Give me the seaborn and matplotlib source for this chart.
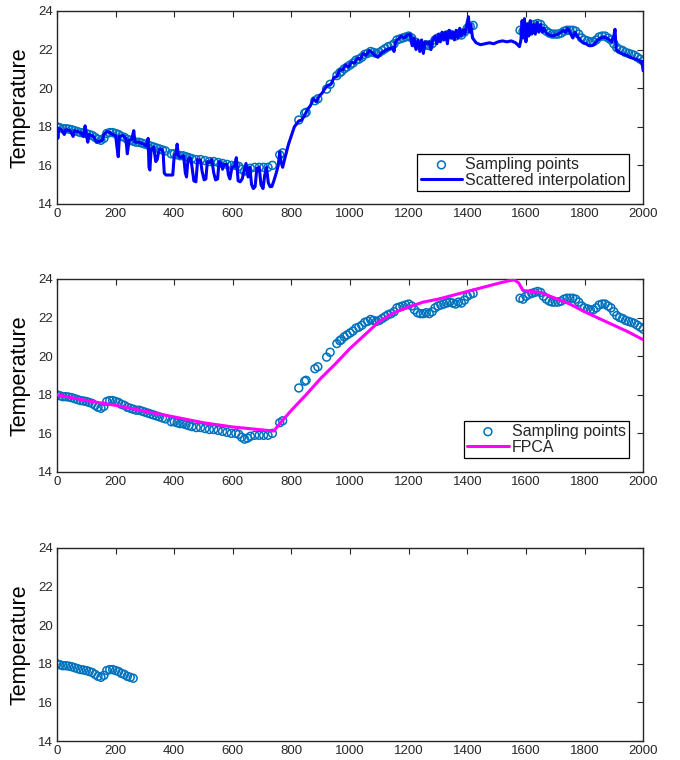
import matplotlib
matplotlib.use("Agg")
import matplotlib.pyplot as plt
import seaborn as sns
import numpy as np
import pandas as pd

# ---------------- data ----------------
samp_x = [0, 10, 20, 30, 40, 50, 60, 70, 80, 90, 100, 110, 120, 130, 140, 150, 160, 170,
          180, 190, 200, 210, 220, 230, 240, 250, 260,
          270, 280, 290, 300, 310, 320, 330, 340, 350, 360, 370,
          390, 400, 410, 420, 430, 440, 450, 460, 475, 490, 505, 520, 535, 550, 565, 580,
          595, 610, 620, 630, 640, 650, 660, 675, 690, 705, 720, 735, 760, 770,
          825, 845, 850, 880, 890, 920, 932, 955, 965,
          970, 980, 990, 1000, 1010, 1020, 1030, 1040, 1050, 1060, 1070, 1080, 1090, 1100,
          1110, 1120, 1130, 1140, 1150, 1160, 1170, 1180, 1190, 1200, 1210, 1220, 1230,
          1240, 1250, 1260, 1270, 1280, 1290, 1300, 1310, 1320, 1330, 1340, 1350, 1360,
          1370, 1380, 1390, 1400, 1410, 1420,
          1580, 1590, 1600, 1610, 1620, 1630, 1640, 1650, 1660, 1670, 1680, 1690, 1700,
          1710, 1720, 1730, 1740, 1750, 1760, 1770, 1780, 1790, 1800, 1810, 1820, 1830,
          1840, 1850, 1860, 1870, 1880, 1890, 1900, 1910, 1920, 1930, 1940, 1950, 1960,
          1970, 1980, 1990, 2000]
samp_y = [18.0, 17.95, 17.9, 17.9, 17.88, 17.85, 17.8, 17.75, 17.7, 17.68, 17.65, 17.6, 17.55,
          17.45, 17.35, 17.3, 17.4, 17.65, 17.7, 17.7, 17.65, 17.6, 17.5, 17.45, 17.35, 17.3,
          17.25,
          17.2, 17.2, 17.15, 17.1, 17.05, 17.0, 16.95, 16.9, 16.85, 16.8, 16.75,
          16.6, 16.6, 16.55, 16.5, 16.5, 16.45, 16.4, 16.35, 16.3, 16.3, 16.25, 16.2, 16.2,
          16.15, 16.1, 16.05, 16.0, 16.0, 15.95, 15.8, 15.7, 15.75, 15.85, 15.9, 15.9, 15.9,
          15.9, 16.0, 16.55, 16.65,
          18.35, 18.7, 18.75, 19.35, 19.45, 19.95, 20.2, 20.65, 20.8,
          20.85, 21.0, 21.1, 21.2, 21.3, 21.45, 21.5, 21.6, 21.75, 21.8, 21.9, 21.85, 21.8,
          21.85, 21.95, 22.05, 22.15, 22.2, 22.3, 22.5, 22.55, 22.6, 22.65, 22.7, 22.6, 22.4,
          22.25, 22.2, 22.2, 22.25, 22.2, 22.3, 22.5, 22.6, 22.65, 22.7, 22.75, 22.8, 22.75,
          22.7, 22.8, 22.75, 22.9, 23.1, 23.2, 23.25,
          23.0, 22.95, 23.1, 23.2, 23.25, 23.3, 23.35, 23.3, 23.1, 22.95, 22.85, 22.8, 22.8,
          22.8, 22.85, 22.95, 23.0, 23.0, 23.0, 22.95, 22.8, 22.6, 22.5, 22.45, 22.4, 22.4,
          22.5, 22.65, 22.7, 22.7, 22.6, 22.5, 22.3, 22.1, 22.0, 21.95, 21.85, 21.8, 21.75,
          21.7, 21.6, 21.5, 21.4]

interp_pts = [
    (0, 17.95), (3, 17.4), (6, 17.9), (15, 17.85), (25, 17.6), (30, 17.85), (45, 17.8),
    (55, 17.5), (60, 17.8), (80, 17.7), (90, 17.5), (96, 18.05), (100, 17.6), (105, 17.2),
    (110, 17.6), (125, 17.5), (135, 17.2), (145, 17.25), (155, 17.3), (160, 17.6),
    (170, 17.75), (180, 17.7), (190, 17.6), (200, 17.55), (205, 16.9), (209, 16.45),
    (213, 17.5), (225, 17.55), (235, 17.4), (240, 16.6), (246, 17.3), (255, 17.35),
    (262, 17.8), (266, 17.2), (280, 17.2), (295, 17.1), (305, 17.0), (311, 17.4),
    (314, 15.9), (317, 15.76), (321, 16.8), (330, 16.95), (337, 16.2), (342, 16.3),
    (348, 16.8), (355, 16.85), (362, 16.7), (366, 15.6), (372, 15.5), (395, 15.5),
    (400, 16.5), (406, 16.6), (410, 17.1), (414, 16.5), (420, 16.4), (432, 16.5),
    (438, 15.6), (442, 15.4), (447, 16.3), (455, 16.4), (460, 16.0), (467, 15.2),
    (474, 15.15), (480, 16.3), (490, 16.25), (495, 15.7), (502, 15.25), (508, 15.3),
    (513, 16.2), (520, 16.15), (528, 16.3), (535, 15.6), (541, 15.25), (548, 15.3),
    (553, 16.2), (560, 16.1), (565, 15.8), (570, 16.05), (580, 16.05), (585, 15.5),
    (590, 15.3), (597, 15.9), (605, 15.95), (612, 16.4), (618, 15.2), (625, 15.15),
    (632, 15.3), (638, 15.7), (645, 16.1), (652, 15.4), (658, 15.9), (664, 15.0),
    (670, 14.8), (676, 14.9), (682, 15.85), (690, 15.9), (696, 15.0), (703, 14.8),
    (709, 15.5), (715, 15.9), (721, 15.1), (727, 14.9), (733, 14.9), (740, 15.2),
    (748, 15.6), (755, 16.0), (760, 16.7), (764, 16.2), (770, 15.9), (778, 16.4),
    (790, 17.1), (810, 18.0), (825, 18.3), (835, 18.35), (845, 18.6), (855, 18.9),
    (865, 19.1), (875, 19.45), (885, 19.3), (895, 19.6), (905, 19.75), (915, 20.0),
    (925, 20.15), (935, 20.2), (945, 20.55), (955, 20.6), (965, 20.95), (975, 20.95),
    (985, 21.2), (995, 21.1), (1005, 21.35), (1015, 21.3), (1025, 21.55), (1035, 21.5),
    (1045, 21.8), (1055, 21.7), (1065, 21.95), (1075, 21.85), (1085, 21.7), (1095, 21.6),
    (1105, 21.8), (1115, 21.9), (1125, 22.0), (1135, 22.05), (1145, 22.1), (1150, 21.9),
    (1155, 22.4), (1165, 22.55), (1175, 22.7), (1185, 22.6), (1195, 22.75), (1205, 22.8),
    (1212, 22.2), (1218, 22.6), (1225, 22.0), (1232, 22.5), (1238, 21.9), (1244, 22.5),
    (1250, 21.8), (1256, 22.4), (1262, 22.3), (1270, 22.4), (1276, 22.0), (1282, 22.5),
    (1290, 22.7), (1296, 22.3), (1302, 22.8), (1308, 22.4), (1314, 22.9), (1320, 22.5),
    (1326, 22.9), (1332, 22.3), (1338, 23.0), (1344, 22.6), (1350, 22.9), (1356, 22.5),
    (1362, 23.0), (1368, 22.6), (1374, 23.1), (1380, 22.7), (1386, 23.0), (1392, 22.8),
    (1398, 23.3), (1404, 23.7), (1408, 22.9), (1412, 23.3), (1418, 22.6), (1430, 22.35),
    (1445, 22.25), (1460, 22.3), (1475, 22.35), (1490, 22.3), (1505, 22.4), (1520, 22.45),
    (1535, 22.4), (1550, 22.45), (1565, 22.35), (1578, 22.15), (1583, 22.5), (1587, 23.5),
    (1591, 22.6), (1595, 23.6), (1600, 22.4), (1605, 23.3), (1610, 22.7), (1615, 23.5),
    (1620, 22.8), (1626, 23.3), (1632, 22.8), (1638, 23.4), (1644, 22.9), (1650, 23.3),
    (1656, 22.9), (1662, 23.1), (1670, 22.85), (1680, 22.75), (1690, 22.7), (1700, 22.75),
    (1710, 22.8), (1720, 22.9), (1728, 23.0), (1735, 22.9), (1742, 23.1), (1750, 22.9),
    (1760, 22.6), (1768, 22.9), (1775, 22.7), (1785, 22.5), (1795, 22.35), (1805, 22.3),
    (1815, 22.2), (1825, 22.2), (1835, 22.3), (1845, 22.5), (1855, 22.6), (1865, 22.65),
    (1875, 22.6), (1885, 22.5), (1893, 22.4), (1900, 22.7), (1904, 23.05), (1908, 22.0),
    (1915, 21.9), (1925, 21.8), (1935, 21.75), (1945, 21.7), (1955, 21.6), (1965, 21.55),
    (1975, 21.5), (1985, 21.45), (1992, 21.35), (1996, 21.4), (2000, 20.9)]
interp_x = [p[0] for p in interp_pts]
interp_y = [p[1] for p in interp_pts]

fpca_x = [0, 100, 200, 300, 400, 500, 600, 700, 740, 760, 800, 850, 900, 950, 1000, 1050,
          1100, 1150, 1200, 1250, 1300, 1350, 1400, 1450, 1500, 1540, 1560, 1575, 1590,
          1620, 1650, 1700, 1750, 1800, 1850, 1900, 1950, 2000]
fpca_y = [18.0, 17.7, 17.45, 17.15, 16.85, 16.55, 16.33, 16.18, 16.12, 16.5, 17.2, 18.0,
          18.85, 19.6, 20.4, 21.1, 21.8, 22.25, 22.55, 22.8, 22.95, 23.15, 23.35, 23.55,
          23.75, 23.9, 23.95, 23.8, 23.4, 23.35, 23.3, 23.0, 22.7, 22.3, 21.95, 21.6,
          21.25, 20.85]

partial_max_x = 260

xticks = [0, 200, 400, 600, 800, 1000, 1200, 1400, 1600, 1800, 2000]
yticks = [14, 16, 18, 20, 22, 24]

# ---------------- style ----------------
sns.set_theme(style="white")
plt.rcParams['font.family'] = ['Liberation Sans', 'DejaVu Sans']
AX_COL = '#262626'
SAMP_COL = '#0072BD'

fig = plt.figure(figsize=(6.8, 7.6), dpi=100)
left, width, height = 0.0838, 0.862, 0.254
bottoms = [0.7316, 0.379, 0.025]
axes = [fig.add_axes([left, b, width, height]) for b in bottoms]

samp_df = pd.DataFrame({'x': samp_x, 'y': samp_y})
interp_df = pd.DataFrame({'x': interp_x, 'y': interp_y})
fpca_df = pd.DataFrame({'x': fpca_x, 'y': fpca_y})


def scatter(ax, df, label):
    sns.scatterplot(data=df, x='x', y='y', ax=ax, marker='o', s=32,
                    facecolor='none', edgecolor=SAMP_COL, linewidth=1.1,
                    label=label, zorder=2)


# panel 1
ax = axes[0]
scatter(ax, samp_df, 'Sampling points')
sns.lineplot(data=interp_df, x='x', y='y', ax=ax, estimator=None, sort=False,
             color='#0000FF', linewidth=2.2, label='Scattered interpolation', zorder=3)

# panel 2
ax = axes[1]
scatter(ax, samp_df, 'Sampling points')
sns.lineplot(data=fpca_df, x='x', y='y', ax=ax, estimator=None, sort=False,
             color='#FF00FF', linewidth=2.2, label='FPCA', zorder=3)

# panel 3
ax = axes[2]
scatter(ax, samp_df[samp_df['x'] <= partial_max_x], None)

for i, ax in enumerate(axes):
    ax.set_xlim(0, 2000)
    ax.set_ylim(14, 24)
    ax.set_xticks(xticks)
    ax.set_yticks(yticks)
    ax.set_xlabel('')
    ax.set_ylabel('Temperature', fontsize=15.5, color='black')
    ax.tick_params(axis='both', which='both', direction='in', length=4.5, width=0.8,
                   colors=AX_COL, labelsize=9.5, top=True, right=True, pad=3)
    for lab in ax.get_xticklabels() + ax.get_yticklabels():
        lab.set_color(AX_COL)
    for sp in ax.spines.values():
        sp.set_visible(True)
        sp.set_color(AX_COL)
        sp.set_linewidth(1.0)
    ax.yaxis.set_label_coords(-0.045, 0.5)

legend_specs = [(0, 0.067), (1, 0.073)]
for idx, yb in legend_specs:
    ax = axes[idx]
    handles, labels = ax.get_legend_handles_labels()
    leg = ax.legend(handles, labels, loc='lower right', bbox_to_anchor=(0.976, yb),
                    borderaxespad=0, fontsize=11.5, frameon=True, fancybox=False,
                    edgecolor='black', framealpha=1, handlelength=2.6,
                    handletextpad=0.2, labelspacing=0.05, borderpad=0.2)
    leg.get_frame().set_linewidth(0.9)
    leg.set_zorder(10)

if axes[2].get_legend() is not None:
    axes[2].get_legend().remove()

fig.savefig('out.png', dpi=100)
